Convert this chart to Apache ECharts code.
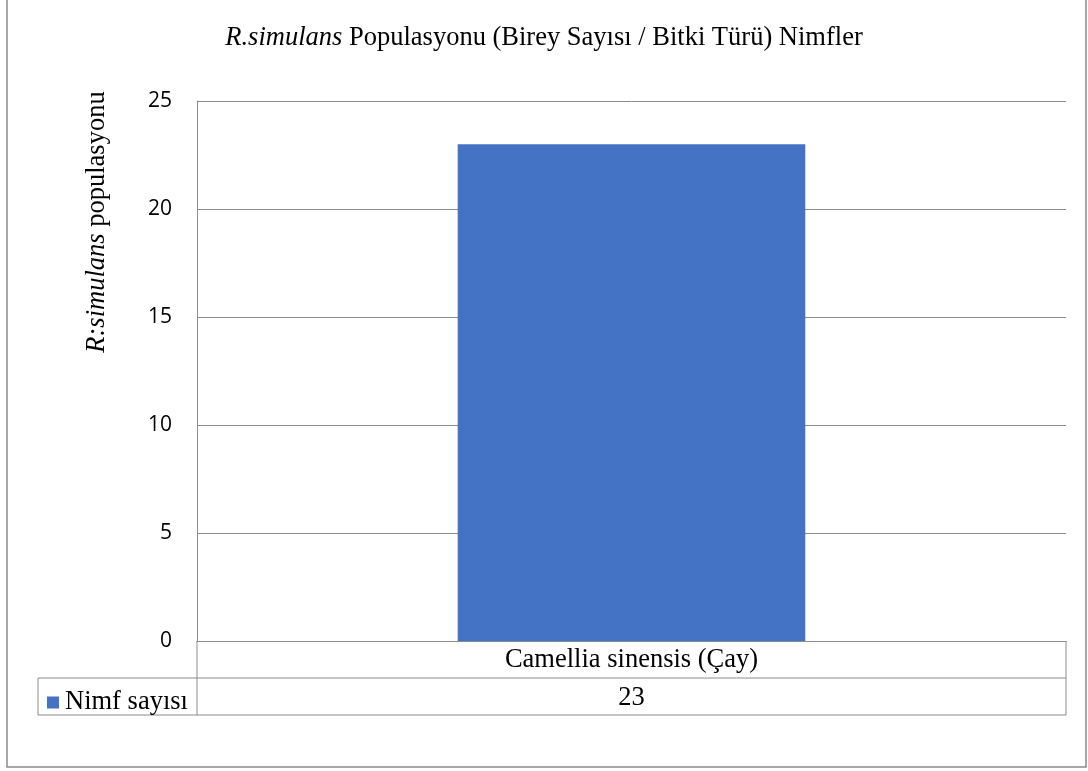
<!DOCTYPE html>
<html>
<head>
<meta charset="utf-8">
<script src="https://cdn.jsdelivr.net/npm/echarts@6/dist/echarts.min.js"></script>
<style>
  html, body { margin: 0; padding: 0; background: #fff; }
  #chart { width: 1088px; height: 771px; }
</style>
</head>
<body>
<div id="chart"></div>
<script>
// Plant species sampled and the nymph count found on each
const categories = ['Camellia sinensis (Çay)'];
const nymphCounts = [23];
const seriesName = 'Nimf sayısı';
const yTicks = { min: 0, max: 25, interval: 5 };

const serif = '"Liberation Serif", "Times New Roman", serif';
const sans = '"Open Sans", Lato, sans-serif';
const lineGray = '#8c8c8c';
const serifSize = 26.5;

// Plot area bounds
const plotLeft = 197, plotRight = 1066, plotTop = 101, plotBottom = 641;
const rowH = 37; // height of each data-table row

const chart = echarts.init(document.getElementById('chart'));

function hLine(x1, x2, y) {
  return { type: 'line', shape: { x1, y1: y, x2, y2: y }, style: { stroke: lineGray, lineWidth: 1 }, silent: true };
}
function vLine(x, y1, y2) {
  return { type: 'line', shape: { x1: x, y1, x2: x, y2 }, style: { stroke: lineGray, lineWidth: 1 }, silent: true };
}

chart.setOption({
  animation: false,
  backgroundColor: '#fff',
  title: {
    text: '{i|R.simulans} Populasyonu (Birey Sayısı / Bitki Türü) Nimfler',
    left: 'center',
    top: 20,
    textStyle: {
      fontFamily: serif, fontSize: serifSize, fontWeight: 'normal', color: '#000',
      rich: { i: { fontFamily: serif, fontSize: serifSize, fontStyle: 'italic', color: '#000' } }
    }
  },
  legend: {
    data: [seriesName],
    left: 42,
    top: plotBottom + rowH + 6,
    icon: 'rect',
    itemWidth: 12,
    itemHeight: 12,
    itemGap: 4,
    textStyle: { fontFamily: serif, fontSize: serifSize, color: '#000', padding: [0, 0, 0, 1] }
  },
  grid: {
    left: plotLeft,
    right: 1088 - plotRight,
    top: plotTop,
    bottom: 771 - plotBottom,
    containLabel: false
  },
  xAxis: [
    {
      type: 'category',
      data: categories,
      position: 'bottom',
      axisLine: { show: true, lineStyle: { color: lineGray, width: 1 } },
      axisTick: { show: false },
      axisLabel: { fontFamily: serif, fontSize: serifSize, color: '#000', margin: 6 }
    },
    {
      // second table row: the value of each category
      type: 'category',
      data: nymphCounts.map(v => String(v)),
      position: 'bottom',
      offset: rowH,
      axisLine: { show: false },
      axisTick: { show: false },
      axisLabel: { fontFamily: serif, fontSize: serifSize, color: '#000', margin: 7 }
    }
  ],
  yAxis: {
    type: 'value',
    min: yTicks.min,
    max: yTicks.max,
    interval: yTicks.interval,
    axisLine: { show: true, lineStyle: { color: lineGray, width: 1 } },
    axisTick: { show: false },
    axisLabel: { fontFamily: sans, fontSize: 21, color: '#000', margin: 25 },
    splitLine: { show: true, lineStyle: { color: lineGray, width: 1 } }
  },
  series: [
    {
      name: seriesName,
      type: 'bar',
      xAxisIndex: 0,
      data: nymphCounts,
      barWidth: '40%',
      itemStyle: { color: '#4472C4' }
    }
  ],
  graphic: [
    // outer chart frame
    {
      type: 'rect',
      shape: { x: 7, y: -2, width: 1079, height: 769 },
      style: { fill: 'none', stroke: '#8a8a8a', lineWidth: 1.5 },
      silent: true
    },
    // data table borders
    vLine(plotLeft, plotBottom, plotBottom + 2 * rowH),
    vLine(plotRight, plotBottom, plotBottom + 2 * rowH),
    vLine(38, plotBottom + rowH, plotBottom + 2 * rowH),
    hLine(38, plotRight, plotBottom + rowH),
    hLine(38, plotRight, plotBottom + 2 * rowH),
    // y-axis title
    {
      type: 'text',
      x: 97,
      y: 222,
      rotation: Math.PI / 2,
      style: {
        text: '{i|R:simulans} populasyonu',
        fontFamily: serif,
        fontSize: serifSize,
        fill: '#000',
        align: 'center',
        verticalAlign: 'middle',
        rich: { i: { fontFamily: serif, fontSize: serifSize, fontStyle: 'italic', fill: '#000' } }
      },
      silent: true
    }
  ]
});
</script>
</body>
</html>
